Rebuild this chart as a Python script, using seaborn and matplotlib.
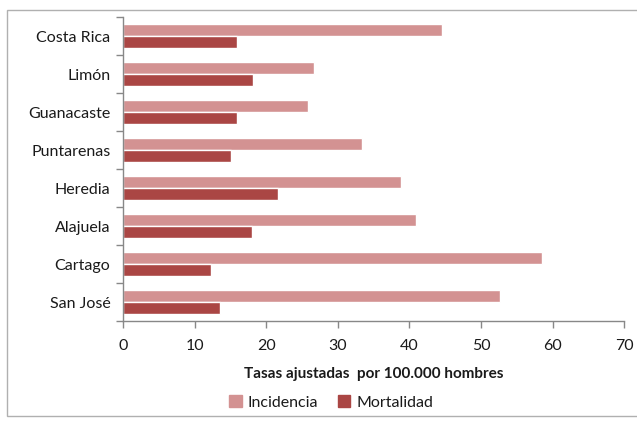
import matplotlib
matplotlib.use("Agg")
import matplotlib.pyplot as plt
import pandas as pd
import seaborn as sns
from matplotlib.patches import Rectangle

regiones = ["Costa Rica", "Limón", "Guanacaste", "Puntarenas",
            "Heredia", "Alajuela", "Cartago", "San José"]
incidencia = [44.6, 26.7, 25.9, 33.4, 38.8, 40.9, 58.5, 52.6]
mortalidad = [15.9, 18.1, 15.9, 15.1, 21.7, 18.0, 12.3, 13.6]
series = ["Incidencia", "Mortalidad"]
colores = ["#D39292", "#AA4644"]
x_ticks = [0, 10, 20, 30, 40, 50, 60, 70]

df = pd.DataFrame({
    "Región": regiones * 2,
    "Tasa": incidencia + mortalidad,
    "Serie": [series[0]] * len(regiones) + [series[1]] * len(regiones),
})

sns.set_style("white")
plt.rcParams["font.family"] = ["Lato", "DejaVu Sans"]

fig = plt.figure(figsize=(6.37, 4.21), dpi=100)
ax = fig.add_axes([0.193, 0.2375, 0.787, 0.722])

sns.barplot(data=df, y="Región", x="Tasa", hue="Serie", order=regiones,
            hue_order=series, palette=colores, orient="h", width=0.62,
            saturation=1, ax=ax, legend=False)

ax.set_xlim(0, 70)
ax.set_ylim(len(regiones) - 0.5, -0.5)
ax.set_xticks(x_ticks)
ax.set_yticks(range(len(regiones)))
ax.set_yticks([i - 0.5 for i in range(len(regiones) + 1)], minor=True)
ax.tick_params(axis="y", which="major", length=0, pad=9, labelsize=11.5, labelcolor="#1a1a1a")
ax.tick_params(axis="y", which="minor", length=5, color="#888888", width=1, direction="out", left=True)
ax.tick_params(axis="x", length=5, color="#888888", width=1, direction="out", bottom=True,
               labelsize=11.5, labelcolor="#1a1a1a", pad=8)
ax.set_ylabel("")
ax.set_xlabel("Tasas ajustadas  por 100.000 hombres", fontsize=11, fontweight="bold",
              color="#1a1a1a", labelpad=10)
for side in ["top", "right"]:
    ax.spines[side].set_visible(False)
for side in ["left", "bottom"]:
    ax.spines[side].set_color("#888888")
    ax.spines[side].set_linewidth(1)

handles = [Rectangle((0, 0), 1, 1, color=c) for c in colores]
fig.legend(handles, series, loc="center", bbox_to_anchor=(0.52, 0.044), ncol=2,
           frameon=False, fontsize=11.5, handlelength=0.8, handleheight=0.8,
           handletextpad=0.4, columnspacing=1.2, labelcolor="#1a1a1a")

fig.patches.append(Rectangle((0.011, 0.012), 0.99, 0.965, transform=fig.transFigure,
                             fill=False, edgecolor="#b0b0b0", linewidth=1))

fig.savefig("out.png", dpi=100)
